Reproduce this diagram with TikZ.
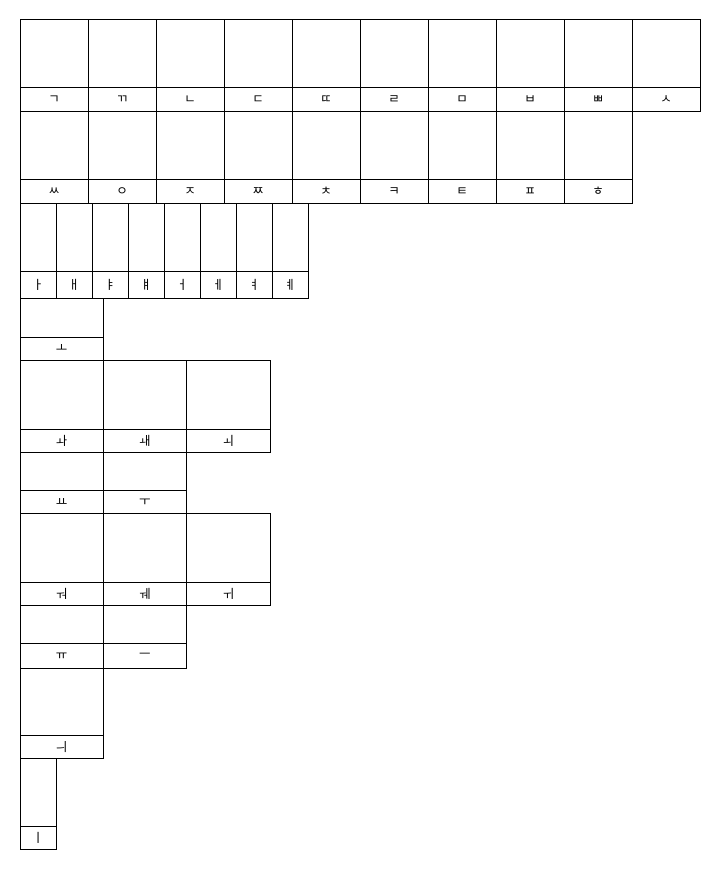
\documentclass[tikz,border=0pt]{standalone}
\usepackage{fontspec}
\newfontfamily\krfont{Noto Sans CJK KR}
\usepackage{tikz}
\usetikzlibrary{positioning}

\begin{document}
\begin{tikzpicture}[
    x=1pt, y=-1pt,
    node distance=0pt,
    cellbox/.style={rectangle, draw, line width=0.8pt, inner sep=0pt, outer sep=0pt, anchor=north west},
    labelbox/.style={rectangle, draw, line width=0.8pt, inner sep=0pt, outer sep=0pt, font=\krfont\fontsize{12.5}{14}\selectfont},
]
    \useasboundingbox (0,0) rectangle (720,872);

    % Consonants
    \foreach \jamo [count=\i from 0] in {ㄱ,ㄲ,ㄴ,ㄷ,ㄸ,ㄹ,ㅁ,ㅂ,ㅃ,ㅅ} {
        \node[cellbox, minimum width=68pt, minimum height=68pt] (cons-a\i) at (20+68*\i,19.3) {};
        \node[labelbox, minimum width=68pt, minimum height=24pt, below=of cons-a\i] (cons-a\i-lab) {\jamo};
    }
    \foreach \jamo [count=\i from 0] in {ㅆ,ㅇ,ㅈ,ㅉ,ㅊ,ㅋ,ㅌ,ㅍ,ㅎ} {
        \node[cellbox, minimum width=68pt, minimum height=68.2pt] (cons-b\i) at (20+68*\i,111.3) {};
        \node[labelbox, minimum width=68pt, minimum height=24pt, below=of cons-b\i] (cons-b\i-lab) {\jamo};
    }

    % Simple vowels
    \foreach \jamo [count=\i from 0] in {ㅏ,ㅐ,ㅑ,ㅒ,ㅓ,ㅔ,ㅕ,ㅖ} {
        \node[cellbox, minimum width=36pt, minimum height=68.2pt] (vow-a\i) at (20+36*\i,203.5) {};
        \node[labelbox, minimum width=36pt, minimum height=27pt, below=of vow-a\i] (vow-a\i-lab) {\jamo};
    }

    % O-group
    \node[cellbox, minimum width=83.3pt, minimum height=38.3pt] (vow-o) at (20,298.7) {};
    \node[labelbox, minimum width=83.3pt, minimum height=23pt, below=of vow-o] (vow-o-lab) {ㅗ};
    \foreach \jamo [count=\i from 0] in {ㅘ,ㅙ,ㅚ} {
        \node[cellbox, minimum width=83.3pt, minimum height=69pt] (vow-oa\i) at (20+83.3*\i,360) {};
        \node[labelbox, minimum width=83.3pt, minimum height=23.7pt, below=of vow-oa\i] (vow-oa\i-lab) {\jamo};
    }
    \foreach \jamo [count=\i from 0] in {ㅛ,ㅜ} {
        \node[cellbox, minimum width=83.3pt, minimum height=38pt] (vow-yo\i) at (20+83.3*\i,452.7) {};
        \node[labelbox, minimum width=83.3pt, minimum height=23pt, below=of vow-yo\i] (vow-yo\i-lab) {\jamo};
    }

    % U-group
    \foreach \jamo [count=\i from 0] in {ㅝ,ㅞ,ㅟ} {
        \node[cellbox, minimum width=83.3pt, minimum height=68.3pt] (vow-ua\i) at (20+83.3*\i,513.7) {};
        \node[labelbox, minimum width=83.3pt, minimum height=23.7pt, below=of vow-ua\i] (vow-ua\i-lab) {\jamo};
    }
    \foreach \jamo [count=\i from 0] in {ㅠ,ㅡ} {
        \node[cellbox, minimum width=83.3pt, minimum height=38pt] (vow-yu\i) at (20+83.3*\i,605.7) {};
        \node[labelbox, minimum width=83.3pt, minimum height=24.5pt, below=of vow-yu\i] (vow-yu\i-lab) {\jamo};
    }

    % Last ones
    \node[cellbox, minimum width=83.3pt, minimum height=67.5pt] (vow-ui) at (20,668.2) {};
    \node[labelbox, minimum width=83.3pt, minimum height=22.6pt, below=of vow-ui] (vow-ui-lab) {ㅢ};
    \node[cellbox, minimum width=36pt, minimum height=68pt] (vow-i) at (20,758.3) {};
    \node[labelbox, minimum width=36pt, minimum height=23pt, below=of vow-i] (vow-i-lab) {ㅣ};
\end{tikzpicture}
\end{document}
